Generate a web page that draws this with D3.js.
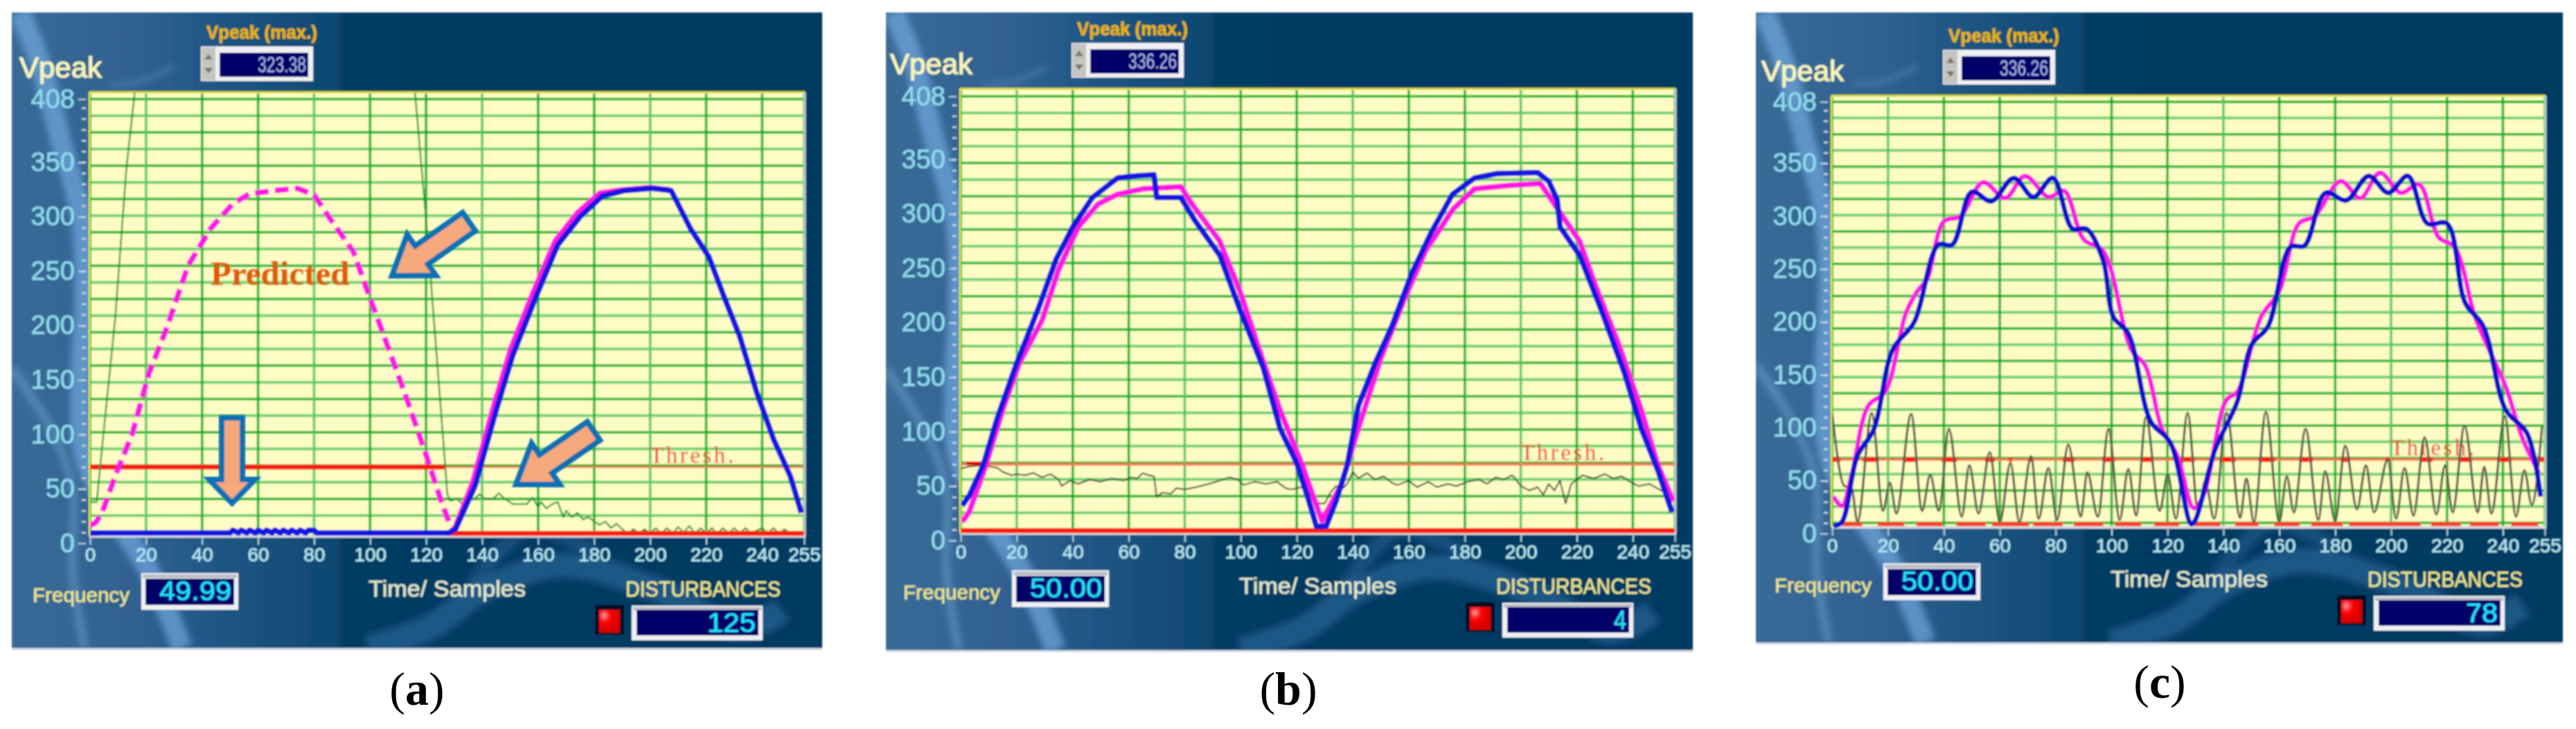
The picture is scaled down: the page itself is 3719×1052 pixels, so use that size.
<!DOCTYPE html>
<html lang="en">
<head>
  <meta charset="UTF-8">
  <title>Vpeak disturbance detection</title>
  <script src="https://cdnjs.cloudflare.com/ajax/libs/d3/7.8.5/d3.min.js"></script>
  <style>
    html, body { margin: 0; background: #fff; }
    svg { display: block; }
    text { font-family: "Liberation Sans", Arial, sans-serif; }
  </style>
</head>
<body>
  <script>
    // tick labels
    const xTicks = [0, 20, 40, 60, 80, 100, 120, 140, 160, 180, 200, 220, 240, 255];
    const yTicks = [0, 50, 100, 150, 200, 250, 300, 350, 408];
    const threshold = 70;
    const baseline = 9;

    // panel (a)
    const aPredS = [0, 2, 4.3, 9, 15, 21, 27, 35, 43, 51, 57, 66, 74, 80, 86, 94, 100, 108, 114, 120, 126, 128.6, 130];
    const aPredV = [16, 19, 28, 62, 100, 156, 195, 255, 289, 312, 321, 324, 326, 320, 297, 268, 225, 169, 126, 81, 34, 17, 13];
    const aPred2S = [130, 136.5, 144, 150, 158, 166, 174, 182, 190, 200, 207];
    const aPred2V = [13, 56, 126, 178, 230, 278, 304, 322, 325, 327, 325];
    const aVoltS = [0, 50, 51, 53, 54, 56, 57, 59, 60, 62, 63, 65, 66, 68, 69, 71, 72, 74, 75, 77, 78, 80, 81, 128, 130.5, 137.5, 145, 151, 159, 167, 175, 183, 191, 200.6, 207.5, 214.4, 221, 226, 232, 238, 244, 250, 254];
    const aVoltV = [9.5, 9.5, 12, 9.5, 12, 9.5, 12, 9.5, 12, 9.5, 12, 9.5, 12, 9.5, 12, 9.5, 12, 9.5, 12, 9.5, 12, 12, 9.5, 9.5, 13, 53, 122, 173, 225, 274, 300, 319, 324, 326, 324, 289, 263, 229, 190, 139, 96, 62, 28];
    const aErrS = [0, 2.4, 4.3, 9, 13, 16, 116, 120, 124, 127.6, 128.6, 131, 133, 135, 137, 139, 141, 144, 146, 148, 151, 156, 158, 160, 161, 163, 165, 167, 169, 170, 172, 174, 176, 178, 180, 182, 184, 186, 188, 190, 192, 194, 196, 198, 200, 202, 204, 206, 208, 210, 212, 214, 216, 218, 220, 222, 224, 226, 228, 230, 232, 234, 236, 240, 242, 244, 246, 248, 250];
    const aErrV = [38, 38, 88, 207, 345, 415, 415, 297, 165, 45, 39, 41, 36, 44, 40, 45, 41, 41, 46, 41, 36, 36, 42, 33, 38, 32, 36, 38, 24, 30, 24, 28, 22, 24, 20, 17, 20, 14, 18, 13, 9, 13, 9, 13, 9, 14, 9, 14, 9, 15, 10, 16, 9, 14, 9, 14, 9, 14, 9, 14, 9, 14, 9, 14, 9, 14, 9, 13, 9];

    // panel (b)
    const bPredS = [0.5, 3, 9, 15, 21, 29, 35, 42, 49, 56, 65, 78.6, 82.6, 92.5, 100, 106, 114, 122, 129, 136, 142, 150, 158, 166, 176, 183.5, 195.5, 207, 213, 221, 227, 235, 243, 249, 254.5];
    const bPredV = [17, 26, 69, 120, 163, 202, 249, 288, 309, 318, 323, 325, 309, 275, 227, 180, 120, 69, 18, 52, 103, 167, 219, 266, 305, 323, 326, 328, 305, 275, 232, 180, 120, 69, 36];
    const bVoltS = [0.5, 3, 8, 13, 20, 28, 34, 40, 47, 56, 63, 69, 70, 78.6, 83.6, 92.5, 100, 108, 114, 120, 124, 127, 130.5, 134, 138, 142, 148, 154, 161, 168, 175.6, 183.5, 191.5, 206, 210, 213, 214, 221, 229, 237, 243, 249, 254];
    const bVoltV = [32, 41, 69, 112, 163, 215, 258, 288, 315, 333, 335, 336, 315, 315, 294, 262, 210, 159, 103, 71, 39, 13, 13, 36, 69, 124, 163, 197, 245, 283, 318, 333, 337, 338, 330, 313, 288, 262, 210, 154, 103, 64, 26];
    const bErrS = [0, 3, 7, 10, 13, 15, 18, 20, 23, 26, 29, 32, 35, 36, 39, 42, 46, 50, 54, 58, 61, 63, 65, 67, 69, 70, 72, 75, 77, 80, 84, 90, 96, 99, 101, 105, 109, 113, 116, 118, 122, 125, 128, 130, 132, 134, 136, 138, 140, 142, 145, 148, 151, 154, 156, 160, 163, 167, 170, 174, 177, 181, 185, 188, 191, 194, 197, 200, 203, 206, 208, 210, 212, 214, 216, 218, 220, 222, 226, 230, 233, 236, 239, 242, 246, 250, 254];
    const bErrV = [66, 68, 69, 68, 67, 63, 60, 61, 60, 62, 58, 61, 56, 50, 55, 52, 56, 54, 57, 55, 58, 57, 62, 60, 59, 40, 44, 43, 48, 47, 49, 53, 58, 56, 51, 54, 52, 54, 48, 47, 49, 42, 34, 34, 44, 50, 47, 52, 63, 57, 62, 56, 59, 53, 51, 55, 49, 54, 49, 52, 50, 54, 56, 52, 58, 56, 60, 50, 46, 49, 42, 52, 46, 55, 34, 52, 56, 60, 57, 61, 57, 59, 54, 50, 52, 46, 42];

    // panel (c)
    const cPredS = [0.5, 3.5, 7, 13, 19, 26.5, 31, 34, 40, 46, 54, 62, 69, 77.5, 83, 90, 97, 107, 112, 118, 123.6, 129.4, 133, 141, 145, 153.5, 160, 167, 172.7, 182, 189, 196, 203.5, 210, 217, 222.7, 230, 235, 241, 247, 253];
    const cPredV = [35, 26, 55, 121, 134, 209, 231, 240, 295, 300, 332, 317, 338, 318, 324, 278, 267, 174, 159, 99, 73, 24, 37, 126, 134, 205, 229, 293, 300, 333, 317, 341, 322, 330, 280, 271, 205, 174, 139, 90, 57];
    const cVoltS = [0.5, 3.5, 9, 15, 21.7, 29.4, 38, 43, 50, 57, 65, 72, 79, 86, 91, 97, 100.6, 106, 114, 121, 128.5, 130, 137, 145, 150, 156, 164, 169, 176.5, 184, 192, 199, 206, 213, 220, 226.5, 233, 241, 248.6, 253.5];
    const cVoltV = [7, 11, 73, 99, 174, 200, 273, 273, 323, 314, 336, 318, 336, 288, 288, 258, 205, 189, 106, 86, 9, 13, 79, 125, 178, 196, 271, 272, 322, 315, 338, 322, 338, 293, 293, 218, 196, 117, 95, 35];
    const cErrS = [0, 4.4, 7, 9.1, 14.2, 18.2, 20.7, 23, 28.3, 32.2, 35.1, 38.2, 41.8, 46.4, 49.1, 52.4, 56.4, 60, 63.8, 67, 71.2, 73.9, 77.4, 80.5, 84.5, 89, 91.3, 95.1, 98.9, 102.9, 106, 108.8, 112.3, 117.2, 120.1, 123, 127.2, 131, 133.5, 136.7, 141.2, 146, 148.2, 150.9, 155.2, 160, 162.7, 165.2, 169.4, 174, 176.4, 180, 183.6, 187.8, 191, 193.9, 198.8, 201.8, 204.8, 208, 212, 216.2, 219.3, 222, 226.3, 231, 233.3, 235.9, 240.7, 244.7, 247.7, 250.3, 254];
    const cErrV = [114, 45, 43, 11, 114, 21.5, 48, 19, 113, 21.5, 55.5, 21.5, 99, 16, 64.5, 19, 77, 11, 66.7, 11, 73, 14, 62, 13, 84, 16, 58, 16, 99, 13, 61, 17, 110, 21.5, 56, 14, 114, 20, 50, 14, 114, 15, 52, 11, 115, 11, 54, 20, 99, 13, 59, 12, 83, 23, 64.5, 20, 70, 14, 62, 17, 91, 18, 64.5, 20, 102, 20, 63, 19, 111, 16, 60, 27, 101];
    // sample ranges where the flags are lit in (c)
    const cThreshFrom = [0, 11, 25.3, 39.2, 54.7, 63.3, 70.6, 82.5, 96.7, 110.3, 123.7, 138.6, 152.6, 167, 182, 198, 210.4, 224.2, 238, 250.5];
    const cThreshTo = [3, 16.7, 30.4, 44.7, 58.2, 64.3, 71.7, 86.8, 101.2, 115, 129.7, 144.4, 158.5, 172, 185.2, 199.7, 214.8, 229, 243, 254.7];
    const cBaseFrom = [3.5, 16.4, 30.2, 44.5, 57.2, 71.9, 86.5, 101.2, 115.2, 129.7, 144.2, 158.2, 171.4, 185, 214.3, 228.2, 243];
    const cBaseTo = [10.8, 25.8, 39.5, 55, 70.5, 82.5, 97, 110.6, 124.2, 138.9, 152.6, 167.3, 182.7, 210.6, 224.9, 238.6, 252.6];

    const toPts = (xs, ys) => xs.map((x, i) => [x, ys[i]]);

    const svg = d3.select("body").append("svg")
      .attr("width", 3719)
      .attr("height", 1052);

    const defs = svg.append("defs");
    defs.append("filter").attr("id", "soft").attr("x", "-2%").attr("y", "-2%").attr("width", "104%").attr("height", "104%")
      .append("feGaussianBlur").attr("stdDeviation", 0.8);
    defs.append("filter").attr("id", "glow").attr("x", "-20%").attr("y", "-20%").attr("width", "140%").attr("height", "140%")
      .append("feGaussianBlur").attr("stdDeviation", 5);
    const grad = defs.append("linearGradient").attr("id", "panelBg");
    [[0, "#3a6b97"], [0.16, "#2f6090"], [0.27, "#1d5583"], [0.4, "#0e4871"], [0.41, "#043c64"], [1, "#033a62"]]
      .forEach(d => grad.append("stop").attr("offset", d[0]).attr("stop-color", d[1]));
    const led = defs.append("radialGradient").attr("id", "led").attr("cx", "25%").attr("cy", "25%").attr("r", "70%");
    [[0, "#ff9a9a"], [0.4, "#ff0808"], [1, "#d80000"]]
      .forEach(d => led.append("stop").attr("offset", d[0]).attr("stop-color", d[1]));

    // background streaks, in fractions of the panel
    const bolts = [
      { w: 30, c: "#6fa8de", o: 0.7, p: [[0.01, 0], [0.035, 0.08], [0.06, 0.2], [0.085, 0.32], [0.09, 0.45], [0.085, 0.58], [0.09, 0.7], [0.13, 0.8], [0.17, 0.88], [0.21, 1]] },
      { w: 12, c: "#7fb4e2", o: 0.4, p: [[0, 0.56], [0.05, 0.66], [0.075, 0.75], [0.075, 0.88], [0.09, 1]] },
      { w: 6, c: "#5f93c4", o: 0.5, p: [[0.12, 0.115], [0.16, 0.108], [0.2, 0.085]] },
      { w: 36, c: "#2a6496", o: 0.7, p: [[0.44, 1], [0.52, 0.965], [0.58, 0.91], [0.68, 0.87], [0.8, 0.91], [0.9, 0.97], [0.95, 0.94]] },
      { w: 22, c: "#2a6496", o: 0.5, p: [[0.57, 0.9], [0.6, 0.85], [0.64, 0.81], [0.72, 0.85]] }
    ];

    const panels = [
      { label: "a", bg: [17, 18, 1170, 917], dx: 0, head: 0, foot: 0, plot: [130, 1161, 133, 773], y: [784, 143], vmax: "323.38", freq: "49.99", dist: "125", cap: [602, 1017] },
      { label: "b", bg: [1279, 18, 1165, 920], dx: 1257, head: -5, foot: -4, plot: [1387, 2418, 128, 769], y: [780, 139], vmax: "336.26", freq: "50.00", dist: "4", cap: [1860, 1017] },
      { label: "c", bg: [2535, 18, 1165, 909], dx: 2515, head: 5, foot: -14, plot: [2645, 3674, 138, 760], y: [770, 147], vmax: "336.26", freq: "50.00", dist: "78", cap: [3118, 1007] }
    ];

    function readout(g, x, y, w, h, px, py, text, tw, size, color) {
      g.append("rect").attr("x", x).attr("y", y).attr("width", w).attr("height", h).attr("fill", "#eef0f4");
      g.append("rect").attr("x", x + 2).attr("y", y + 2).attr("width", w - 4).attr("height", 5).attr("fill", "#b9bcc6");
      g.append("rect").attr("x", x + px).attr("y", y + py).attr("width", w - px - 6).attr("height", h - py - 7).attr("fill", "#000068");
      g.append("text").attr("x", x + w - 10).attr("y", y + h / 2 + size * 0.34)
        .attr("text-anchor", "end")
        .attr("font-size", size)
        .attr("fill", color)
        .attr("stroke", color).attr("stroke-width", 0.5)
        .attr("textLength", tw)
        .attr("lengthAdjust", "spacingAndGlyphs")
        .text(text);
    }

    function label(g, x, y, size, color, text, tw) {
      const t = g.append("text").attr("x", x).attr("y", y)
        .attr("font-size", size).attr("fill", color)
        .attr("stroke", color).attr("stroke-width", 0.6)
        .attr("dominant-baseline", "central").text(text);
      if (tw) t.attr("textLength", tw).attr("lengthAdjust", "spacingAndGlyphs");
      return t;
    }

    function arrow(g, x0, y0, x1, y1, w, hw, hl) {
      const len = Math.hypot(x1 - x0, y1 - y0);
      const ux = (x1 - x0) / len, uy = (y1 - y0) / len;
      const nx = -uy, ny = ux;
      const bx = x1 - ux * hl, by = y1 - uy * hl;
      const pts = [
        [x0 + nx * w / 2, y0 + ny * w / 2], [bx + nx * w / 2, by + ny * w / 2], [bx + nx * hw / 2, by + ny * hw / 2],
        [x1, y1],
        [bx - nx * hw / 2, by - ny * hw / 2], [bx - nx * w / 2, by - ny * w / 2], [x0 - nx * w / 2, y0 - ny * w / 2]
      ];
      g.append("polygon").attr("points", pts.join(" "))
        .attr("fill", "#f5a97c").attr("stroke", "#0f70b5").attr("stroke-width", 8).attr("stroke-linejoin", "miter");
    }

    const panelG = {};

    panels.forEach(p => {
      const g = svg.append("g").attr("filter", "url(#soft)");
      panelG[p.label] = p;
      const [bx, by, bw, bh] = p.bg;
      const [pl, pr, pt, pb] = p.plot;

      g.append("rect").attr("x", bx).attr("y", by).attr("width", bw).attr("height", bh).attr("fill", "url(#panelBg)");
      g.append("rect").attr("x", bx).attr("y", by + bh).attr("width", bw).attr("height", 3).attr("fill", "#cfd6e2");

      const clipId = "bg-" + p.label;
      defs.append("clipPath").attr("id", clipId).append("rect").attr("x", bx).attr("y", by).attr("width", bw).attr("height", bh);
      const streaks = g.append("g").attr("clip-path", `url(#${clipId})`);
      const boltLine = d3.line().x(d => bx + d[0] * bw).y(d => by + d[1] * bh).curve(d3.curveCatmullRom);
      bolts.forEach(b => {
        streaks.append("path").attr("d", boltLine(b.p)).attr("fill", "none")
          .attr("stroke", b.c).attr("stroke-width", b.w).attr("stroke-opacity", b.o)
          .attr("filter", "url(#glow)");
      });

      const x = d3.scaleLinear().domain([0, 255]).range([pl, pr]);
      const y = d3.scaleLinear().domain([0, 408]).range(p.y);

      // plot area
      g.append("rect").attr("x", pl - 1).attr("y", pt).attr("width", pr - pl + 2).attr("height", pb - pt).attr("fill", "#fdfcc4");

      const yGrid = d3.range(0, 27).map(i => 408 - i * 15.3);
      g.append("g").selectAll("line").data(yGrid).enter().append("line")
        .attr("x1", pl).attr("x2", pr)
        .attr("y1", d => y(d)).attr("y2", d => y(d))
        .attr("stroke", (d, i) => i % 2 ? "#6fd070" : "#00b124")
        .attr("stroke-width", (d, i) => i % 2 ? 4 : 3.5);
      g.append("g").selectAll("line").data(xTicks).enter().append("line")
        .attr("x1", d => x(d)).attr("x2", d => x(d))
        .attr("y1", pt + 2).attr("y2", pb)
        .attr("stroke", (d, i) => i % 3 === 1 ? "#55c865" : "#00b124")
        .attr("stroke-width", 3.5);

      // frame
      g.append("line").attr("x1", pl - 1).attr("x2", pr + 1).attr("y1", pt).attr("y2", pt).attr("stroke", "#d8d82a").attr("stroke-width", 3);
      g.append("line").attr("x1", pl - 1).attr("x2", pl - 1).attr("y1", pt).attr("y2", pb).attr("stroke", "#f2f020").attr("stroke-width", 2);
      g.append("line").attr("x1", pr + 1).attr("x2", pr + 1).attr("y1", pt).attr("y2", pb).attr("stroke", "#c4ccd6").attr("stroke-width", 3);
      g.append("line").attr("x1", pl - 1).attr("x2", pr + 2).attr("y1", pb + 1).attr("y2", pb + 1).attr("stroke", "#d4d8dc").attr("stroke-width", 4);

      // axes
      const xAxis = d3.axisBottom(x).tickValues(xTicks).tickSize(11).tickPadding(4).tickFormat(d3.format("d"));
      const xg = g.append("g").attr("transform", `translate(0, ${pb + 2})`).call(xAxis);
      xg.select(".domain").remove();
      xg.selectAll("line").attr("stroke", "#b8d4e0").attr("stroke-width", 2);
      xg.selectAll("text").attr("font-size", 28).attr("fill", "#b4e6f0").attr("stroke", "#b4e6f0").attr("stroke-width", 0.6);

      const yAxis = d3.axisLeft(y).tickValues(yTicks).tickSize(11).tickPadding(5).tickFormat(d3.format("d"));
      const yg = g.append("g").attr("transform", `translate(${pl - 6}, 0)`).call(yAxis);
      yg.select(".domain").remove();
      yg.selectAll("line").attr("stroke", "#c0d8e4").attr("stroke-width", 2);
      yg.selectAll("text").attr("font-size", 38).attr("fill", "#8fdcec").attr("stroke", "#8fdcec").attr("stroke-width", 0.5);

      const yMinor = d3.axisLeft(y).tickValues(d3.range(10, 408, 10)).tickSize(6).tickFormat("");
      const ym = g.append("g").attr("transform", `translate(${pl - 6}, 0)`).call(yMinor);
      ym.select(".domain").remove();
      ym.selectAll("line").attr("stroke", "#c0d8e4").attr("stroke-width", 2.5);

      // header and footer
      const dx = p.dx, hd = p.head, fd = p.foot;
      label(g, 28 + dx, 97 + hd, 42, "#f8f4b8", "Vpeak", 119).attr("stroke-width", 1.2);
      label(g, 298 + dx, 47 + hd, 27, "#eab400", "Vpeak (max.)", 160).attr("font-weight", "bold");

      g.append("rect").attr("x", 290 + dx).attr("y", 67 + hd).attr("width", 162).attr("height", 50).attr("fill", "#f0f0f4");
      g.append("rect").attr("x", 291 + dx).attr("y", 68 + hd).attr("width", 20).attr("height", 48).attr("fill", "#c4c4c0");
      g.append("path").attr("d", `M${295 + dx} ${86 + hd}h12l-6 -8z`).attr("fill", "#77776a");
      g.append("path").attr("d", `M${295 + dx} ${98 + hd}h12l-6 8z`).attr("fill", "#77776a");
      g.append("rect").attr("x", 317 + dx).attr("y", 76 + hd).attr("width", 128).attr("height", 35).attr("fill", "#000068");
      g.append("text").attr("x", 442 + dx).attr("y", 104 + hd).attr("text-anchor", "end")
        .attr("font-size", 31).attr("fill", "#a8b8ec")
        .attr("textLength", 70).attr("lengthAdjust", "spacingAndGlyphs")
        .text(p.vmax);

      label(g, 47 + dx, 859 + fd, 29, "#ece48c", "Frequency", 140);
      readout(g, 204 + dx, 827 + fd, 140, 53, 6, 8, p.freq, 104, 38, "#22e8ff");
      label(g, 532 + dx, 849 + fd, 34, "#e2e8cc", "Time/ Samples", 227);
      label(g, 903 + dx, 850 + fd, 32, "#ece48c", "DISTURBANCES", 224);
      const distW = { "125": 70, "4": 18, "78": 46 }[p.dist];
      readout(g, 912 + dx, 874 + fd, 189, 50, 7, 6, p.dist, distW, 38, "#22e8ff");
      g.append("rect").attr("x", 859 + dx).attr("y", 873 + fd).attr("width", 42).attr("height", 43).attr("fill", "#020c24");
      g.append("rect").attr("x", 865 + dx).attr("y", 880 + fd).attr("width", 30).attr("height", 33).attr("fill", "url(#led)");

      // threshold text
      g.append("text").attr("x", pr - 223).attr("y", y(threshold) - 6)
        .style("font-family", "Liberation Serif").attr("font-size", 33)
        .attr("fill", "#f23a20").attr("letter-spacing", 3.5).text("Thresh.");

      // caption
      const cap = svg.append("text").attr("x", p.cap[0]).attr("y", p.cap[1]).attr("text-anchor", "middle")
        .attr("font-size", 68).attr("fill", "#000").style("font-family", "Liberation Serif");
      cap.append("tspan").text("(");
      cap.append("tspan").attr("font-weight", "bold").text(p.label);
      cap.append("tspan").text(")");

      defs.append("clipPath").attr("id", "plot-" + p.label).append("rect")
        .attr("x", pl).attr("y", pt + 1).attr("width", pr - pl).attr("height", pb - pt + 1);
      const marks = g.append("g").attr("clip-path", `url(#plot-${p.label})`);

      p.draw = { x, y, marks };
    });

    const lineFor = (d, curve) => d3.line().x(v => d.x(v[0])).y(v => d.y(v[1])).curve(curve || d3.curveLinear);
    function trace(d, pts, color, width, curve, dash) {
      d.marks.append("path").attr("d", lineFor(d, curve)(pts))
        .attr("fill", "none").attr("stroke", color).attr("stroke-width", width)
        .attr("stroke-linejoin", "round")
        .attr("stroke-dasharray", dash || null);
    }
    function flat(d, from, to, v, color, width) {
      d.marks.append("line").attr("x1", d.x(from)).attr("x2", d.x(to))
        .attr("y1", d.y(v)).attr("y2", d.y(v))
        .attr("stroke", color).attr("stroke-width", width);
    }
    const magenta = "#ff12e6", blue = "#1212e2", redThick = "#ff1a0a", redThin = "#ff6f55";

    // (a)
    const da = panelG.a.draw;
    flat(da, 0, 255, threshold, redThin, 2.5);
    flat(da, 0, 127, threshold, redThick, 7);
    trace(da, toPts(aErrS, aErrV), "#0a8f2c", 2.2);
    flat(da, 0, 3, baseline, redThick, 7);
    flat(da, 127, 255, baseline, redThick, 7);
    trace(da, toPts(aPredS, aPredV), magenta, 8, null, "20 9");
    trace(da, toPts(aPred2S, aPred2V), magenta, 7);
    trace(da, toPts(aVoltS, aVoltV), blue, 8);

    const ga = svg.append("g").attr("filter", "url(#soft)");
    ga.append("text").attr("x", 304).attr("y", 411).attr("font-size", 49).attr("font-weight", "bold")
      .attr("fill", "#df5a0d").style("font-family", "Liberation Serif").text("Predicted");
    arrow(ga, 677, 320, 566, 398, 32, 72, 52);
    arrow(ga, 857, 622, 745, 699, 32, 72, 52);
    arrow(ga, 335, 603, 335, 726, 30, 66, 34);

    // (b)
    const db = panelG.b.draw;
    flat(db, 0, 255, threshold, redThin, 3.5);
    flat(db, 2, 10, threshold + 1, "#e00000", 5);
    trace(db, toPts(bErrS, bErrV), "#33331f", 2);
    flat(db, 0, 255, baseline, redThick, 7);
    trace(db, toPts(bPredS, bPredV), magenta, 8);
    trace(db, toPts(bVoltS, bVoltV), blue, 8);

    // (c)
    const dc = panelG.c.draw;
    flat(dc, 0, 255, threshold, redThin, 3.5);
    cThreshFrom.forEach((s, i) => flat(dc, s, cThreshTo[i], threshold, redThick, 7));
    cBaseFrom.forEach((s, i) => flat(dc, s, cBaseTo[i], baseline, "#ff3c28", 6));
    trace(dc, toPts(cErrS, cErrV), "#8a8a6c", 3.5, d3.curveMonotoneX);
    trace(dc, toPts(cErrS, cErrV), "#1c1c10", 1.4, d3.curveMonotoneX);
    trace(dc, toPts(cPredS, cPredV), magenta, 6.5, d3.curveCatmullRom);
    trace(dc, toPts(cVoltS, cVoltV), "#1010d0", 7, d3.curveCatmullRom);
  </script>
</body>
</html>
